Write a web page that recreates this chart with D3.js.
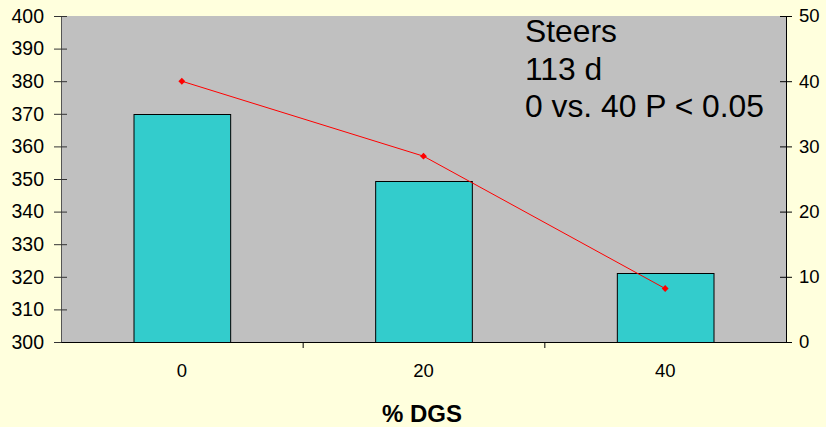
<!DOCTYPE html>
<html>
<head>
<meta charset="utf-8">
<script src="https://cdn.jsdelivr.net/npm/d3@7/dist/d3.min.js"></script>
<style>
  html, body { margin: 0; padding: 0; background: #FFFFDD; }
  svg { display: block; }
  text { font-family: "Liberation Sans", Arial, sans-serif; fill: #000; }
</style>
</head>
<body>
<svg id="chart" width="826" height="427"></svg>
<script>
// Dietary DGS level (%) and responses
const categories = ["0", "20", "40"];
const barValues = [370, 349.3, 321.3];      // left axis
const lineValues = [40, 28.5, 8.2];         // right axis
const leftTicks = [300, 310, 320, 330, 340, 350, 360, 370, 380, 390, 400];
const rightTicks = [0, 10, 20, 30, 40, 50];
const noteLines = ["Steers", "113 d", "0 vs. 40 P < 0.05"];
const xTitle = "% DGS";

const svg = d3.select("#chart");
const plot = { left: 61, right: 786, top: 16, bottom: 342 };

const x = d3.scaleBand().domain(categories).range([plot.left, plot.right]).padding(0);
const yL = d3.scaleLinear().domain([300, 400]).range([plot.bottom, plot.top]);
const yR = d3.scaleLinear().domain([0, 50]).range([plot.bottom, plot.top]);

// plot area
svg.append("rect")
  .attr("x", plot.left).attr("y", plot.top)
  .attr("width", plot.right - plot.left).attr("height", plot.bottom - plot.top)
  .attr("fill", "#C0C0C0");

// bars
const barW = x.bandwidth() * 0.4;
svg.append("g").selectAll("rect").data(barValues).join("rect")
  .attr("x", (d, i) => x(categories[i]) + x.bandwidth() / 2 - barW / 2 + 0.5)
  .attr("y", d => Math.round(yL(d)) + 0.5)
  .attr("width", barW)
  .attr("height", d => plot.bottom - Math.round(yL(d)))
  .attr("fill", "#33CCCC")
  .attr("stroke", "#000")
  .attr("stroke-width", 1);

// line series
const cx = c => x(c) + x.bandwidth() / 2;
svg.append("path")
  .datum(lineValues)
  .attr("fill", "none")
  .attr("stroke", "#FF0000")
  .attr("stroke-width", 1)
  .attr("d", d3.line().x((d, i) => cx(categories[i])).y(d => yR(d)));

svg.append("g").selectAll("path").data(lineValues).join("path")
  .attr("transform", (d, i) => `translate(${cx(categories[i])},${yR(d)})`)
  .attr("d", d3.symbol().type(d3.symbolDiamond2 || d3.symbolDiamond).size(30))
  .attr("fill", "#FF0000");

// axes
function styleAxis(g, size) {
  g.selectAll("text").style("font-size", size + "px").attr("font-family", "Liberation Sans, Arial, sans-serif");
}

const leftAxis = svg.append("g")
  .attr("transform", `translate(${plot.left},0)`)
  .call(d3.axisLeft(yL).tickValues(leftTicks).tickSizeInner(7).tickSizeOuter(0).tickPadding(10));
leftAxis.select(".domain").attr("stroke", "#555");
leftAxis.selectAll(".tick line").attr("x2", 6).attr("x1", -7).attr("stroke", "#333");
styleAxis(leftAxis, 19.5);

const rightAxis = svg.append("g")
  .attr("transform", `translate(${plot.right},0)`)
  .call(d3.axisRight(yR).tickValues(rightTicks).tickSizeInner(6).tickSizeOuter(0).tickPadding(7));
rightAxis.selectAll(".tick line").attr("x1", -6).attr("x2", 6).attr("stroke", "#000");
styleAxis(rightAxis, 18.5);

const bottomAxis = svg.append("g")
  .attr("transform", `translate(0,${plot.bottom})`)
  .call(d3.axisBottom(x).tickSize(0).tickPadding(22));
bottomAxis.select(".domain").attr("stroke", "#000");
styleAxis(bottomAxis, 18.5);

// tick marks between categories on the bottom axis
const bounds = categories.slice(1).map(c => x(c));
bottomAxis.selectAll(".sep").data(bounds).join("line")
  .attr("class", "sep")
  .attr("x1", d => d + 0.5).attr("x2", d => d + 0.5)
  .attr("y1", 0).attr("y2", 6)
  .attr("stroke", "#000");

// axis title
svg.append("text")
  .attr("x", 422).attr("y", 422)
  .attr("text-anchor", "middle")
  .style("font-size", "24px")
  .style("font-weight", "bold")
  .text(xTitle);

// annotation
svg.append("g").selectAll("text").data(noteLines).join("text")
  .attr("x", 525)
  .attr("y", (d, i) => 42 + i * 37.5)
  .style("font-size", "31.8px")
  .text(d => d);
</script>
</body>
</html>
